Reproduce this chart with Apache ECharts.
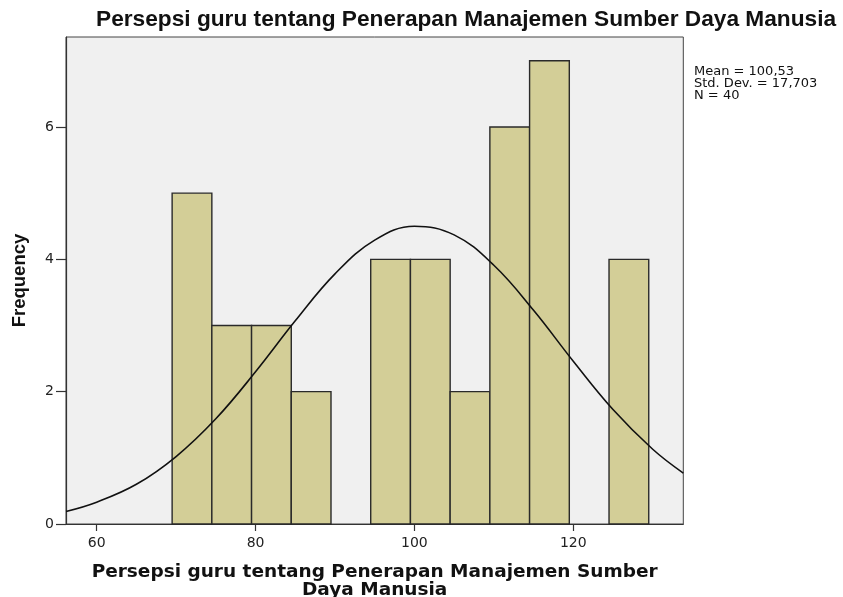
<!DOCTYPE html>
<html>
<head>
<meta charset="utf-8">
<title>Persepsi guru</title>
<script src="https://cdn.jsdelivr.net/npm/echarts@6/dist/echarts.min.js"></script>
<style>
  html, body { margin: 0; padding: 0; background: #fff; }
  #main { width: 843px; height: 597px; }
</style>
</head>
<body>
<div id="main"></div>
<script>
// histogram bins (lower edge, upper edge, frequency)
const binLow = [69.5, 74.5, 79.5, 84.5, 94.5, 99.5, 104.5, 109.5, 114.5, 124.5];
const binHigh = [74.5, 79.5, 84.5, 89.5, 99.5, 104.5, 109.5, 114.5, 119.5, 129.5];
const binCount = [5, 3, 3, 2, 4, 4, 2, 6, 7, 4];

// normal curve
const curveX = [56.14, 60, 65, 70, 75, 80, 85, 90, 95, 100, 105, 110, 115, 120, 125, 130, 133.85];
const curveY = [0.19, 0.33, 0.60, 1.02, 1.59, 2.30, 3.07, 3.78, 4.29, 4.50, 4.37, 3.91, 3.23, 2.46, 1.73, 1.13, 0.77];

const xTicks = [60, 80, 100, 120];
const statLines = ['Mean = 100,53', 'Std. Dev. = 17,703', 'N = 40'];

const chart = echarts.init(document.getElementById('main'));

const bars = binLow.map((lo, i) => [lo, binHigh[i], binCount[i]]);
const curve = curveX.map((x, i) => [x, curveY[i]]);

const option = {
  animation: false,
  backgroundColor: '#fff',
  title: {
    text: 'Persepsi guru tentang Penerapan Manajemen Sumber Daya Manusia',
    left: 91,
    top: 3,
    textStyle: {
      fontFamily: 'Liberation Sans',
      fontWeight: 'bold',
      fontSize: 22.7,
      color: '#111'
    }
  },
  graphic: [{
    type: 'text',
    left: 694,
    top: 65,
    style: {
      text: statLines.join('\n'),
      font: '13px "DejaVu Sans"',
      lineHeight: 12,
      fill: '#111'
    }
  }],
  grid: {
    left: 66,
    right: 159.7,
    top: 37,
    bottom: 73,
    outerBoundsMode: 'none',
    containLabel: false,
    show: true,
    backgroundColor: '#f0f0f0',
    borderColor: '#444',
    borderWidth: 1
  },
  xAxis: {
    type: 'value',
    min: 56.14,
    max: 133.85,
    name: 'Persepsi guru tentang Penerapan Manajemen Sumber\nDaya Manusia',
    nameLocation: 'middle',
    nameGap: 39,
    nameTextStyle: {
      fontFamily: 'DejaVu Sans',
      fontWeight: 'bold',
      fontSize: 18.5,
      color: '#111',
      lineHeight: 18,
      verticalAlign: 'top'
    },
    splitLine: { show: false },
    axisLine: { show: true, lineStyle: { color: '#333', width: 1.2 } },
    axisTick: { show: true, length: 7, customValues: xTicks, lineStyle: { color: '#333', width: 1.2 } },
    axisLabel: {
      customValues: xTicks,
      fontFamily: 'DejaVu Sans',
      fontSize: 14,
      color: '#222',
      margin: 12
    }
  },
  yAxis: {
    type: 'value',
    min: 0,
    max: 7.36,
    interval: 2,
    name: 'Frequency',
    nameLocation: 'middle',
    nameGap: 37,
    nameRotate: 90,
    nameTextStyle: {
      fontFamily: 'Liberation Sans',
      fontWeight: 'bold',
      fontSize: 18.5,
      color: '#111'
    },
    splitLine: { show: false },
    axisLine: { show: true, lineStyle: { color: '#333', width: 1.2 } },
    axisTick: { show: true, length: 10, lineStyle: { color: '#333', width: 1.2 } },
    axisLabel: {
      fontFamily: 'DejaVu Sans',
      fontSize: 14,
      color: '#222',
      margin: 12,
      showMaxLabel: false
    }
  },
  series: [
    {
      type: 'custom',
      data: bars,
      renderItem: function (params, api) {
        const p0 = api.coord([api.value(0), api.value(2)]);
        const p1 = api.coord([api.value(1), 0]);
        return {
          type: 'rect',
          shape: { x: p0[0], y: p0[1], width: p1[0] - p0[0], height: p1[1] - p0[1] },
          style: { fill: '#d3ce97', stroke: '#2a2a2a', lineWidth: 1.4 }
        };
      },
      z: 2
    },
    {
      type: 'line',
      data: curve,
      smooth: 0.4,
      showSymbol: false,
      lineStyle: { color: '#111', width: 1.6 },
      z: 3
    }
  ]
};

chart.setOption(option);
</script>
</body>
</html>
